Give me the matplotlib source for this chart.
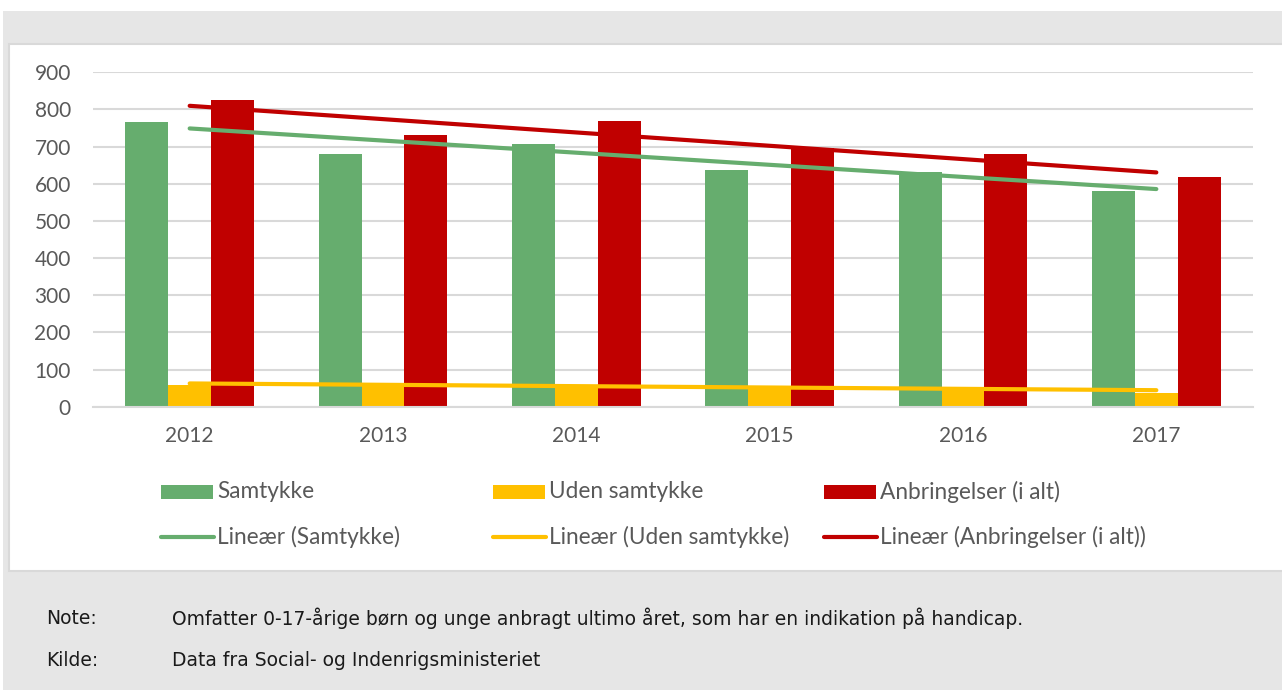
import numpy as np
import matplotlib.pyplot as plt
from matplotlib.patches import Rectangle

# Data
aar = ['2012', '2013', '2014', '2015', '2016', '2017']
samtykke = [765, 681, 708, 638, 632, 580]
uden_samtykke = [58, 60, 58, 55, 52, 38]
anbringelser = [825, 731, 770, 695, 681, 619]

serie_navne = ['Samtykke', 'Uden samtykke', 'Anbringelser (i alt)']
farver = ['#66ad6e', '#ffc000', '#c00000']
y_ticks = [0, 100, 200, 300, 400, 500, 600, 700, 800, 900]

note_tekst = 'Omfatter 0-17-årige børn og unge anbragt ultimo året, som har en indikation på handicap.'
kilde_tekst = 'Data fra Social- og Indenrigsministeriet'

W, H = 1282, 690
fig = plt.figure(figsize=(W / 100, H / 100), dpi=100, facecolor='white')

# baggrund (grå ramme + hvidt panel), i pixel-koordinater
bg = fig.add_axes([0, 0, 1, 1], zorder=-10)
bg.set_xlim(0, W)
bg.set_ylim(H, 0)
bg.axis('off')
bg.add_patch(Rectangle((3, 11), W, H, facecolor='#e6e6e6', edgecolor='none'))
bg.add_patch(Rectangle((9, 44), W, 527, facecolor='white', edgecolor='#d9d9d9', lw=1.5))

# selve diagrammet
ax = fig.add_axes([93 / W, 1 - 406.7 / H, 1160 / W, 334.4 / H])
ax.set_facecolor('none')
x = np.arange(len(aar))
bw = 2 / 9
serier = [samtykke, uden_samtykke, anbringelser]
for i, (vals, farve) in enumerate(zip(serier, farver)):
    ax.bar(x + (i - 1) * bw, vals, width=bw, color=farve, zorder=2, linewidth=0)

# lineære tendenslinjer
for vals, farve in zip(serier, farver):
    k, m = np.polyfit(x, vals, 1)
    ax.plot(x, k * x + m, color=farve, lw=3, solid_capstyle='round', zorder=3)

ax.set_xlim(-0.5, len(aar) - 0.5)
ax.set_ylim(0, 900)
ax.set_yticks(y_ticks)
ax.set_xticks(x)
ax.set_xticklabels(aar)
ax.grid(axis='y', color='#d9d9d9', lw=1.5, zorder=0)
for s in ['top', 'right', 'left']:
    ax.spines[s].set_visible(False)
ax.spines['bottom'].set_color('#d9d9d9')
ax.spines['bottom'].set_linewidth(1.5)
ax.tick_params(length=0, labelsize=15, labelcolor='#595959')
ax.tick_params(axis='y', pad=16)
ax.tick_params(axis='x', pad=14)
for lbl in ax.get_xticklabels() + ax.get_yticklabels():
    lbl.set_fontfamily('Lato')

# forklaring, tegnet manuelt i tre kolonner
kol_x = [161, 493, 824]
for kx, navn, farve in zip(kol_x, serie_navne, farver):
    bg.add_patch(Rectangle((kx, 485), 52, 13.5, facecolor=farve, edgecolor='none'))
    bg.text(kx + 56, 492, navn, fontsize=16.3, family='Lato', color='#595959', va='center')
    bg.plot([kx, kx + 53], [537, 537], color=farve, lw=3, solid_capstyle='round')
    bg.text(kx + 56, 537, f'Lineær ({navn})', fontsize=16.3, family='Lato',
            color='#595959', va='center')

# note og kilde
fod = dict(fontsize=13.5, family='DejaVu Sans', color='#1a1a1a', va='center')
bg.text(46, 618, 'Note:', **fod)
bg.text(172, 618, note_tekst, **fod)
bg.text(46, 661, 'Kilde:', **fod)
bg.text(172, 661, kilde_tekst, **fod)

fig.savefig('out.png', dpi=100, facecolor='white')
